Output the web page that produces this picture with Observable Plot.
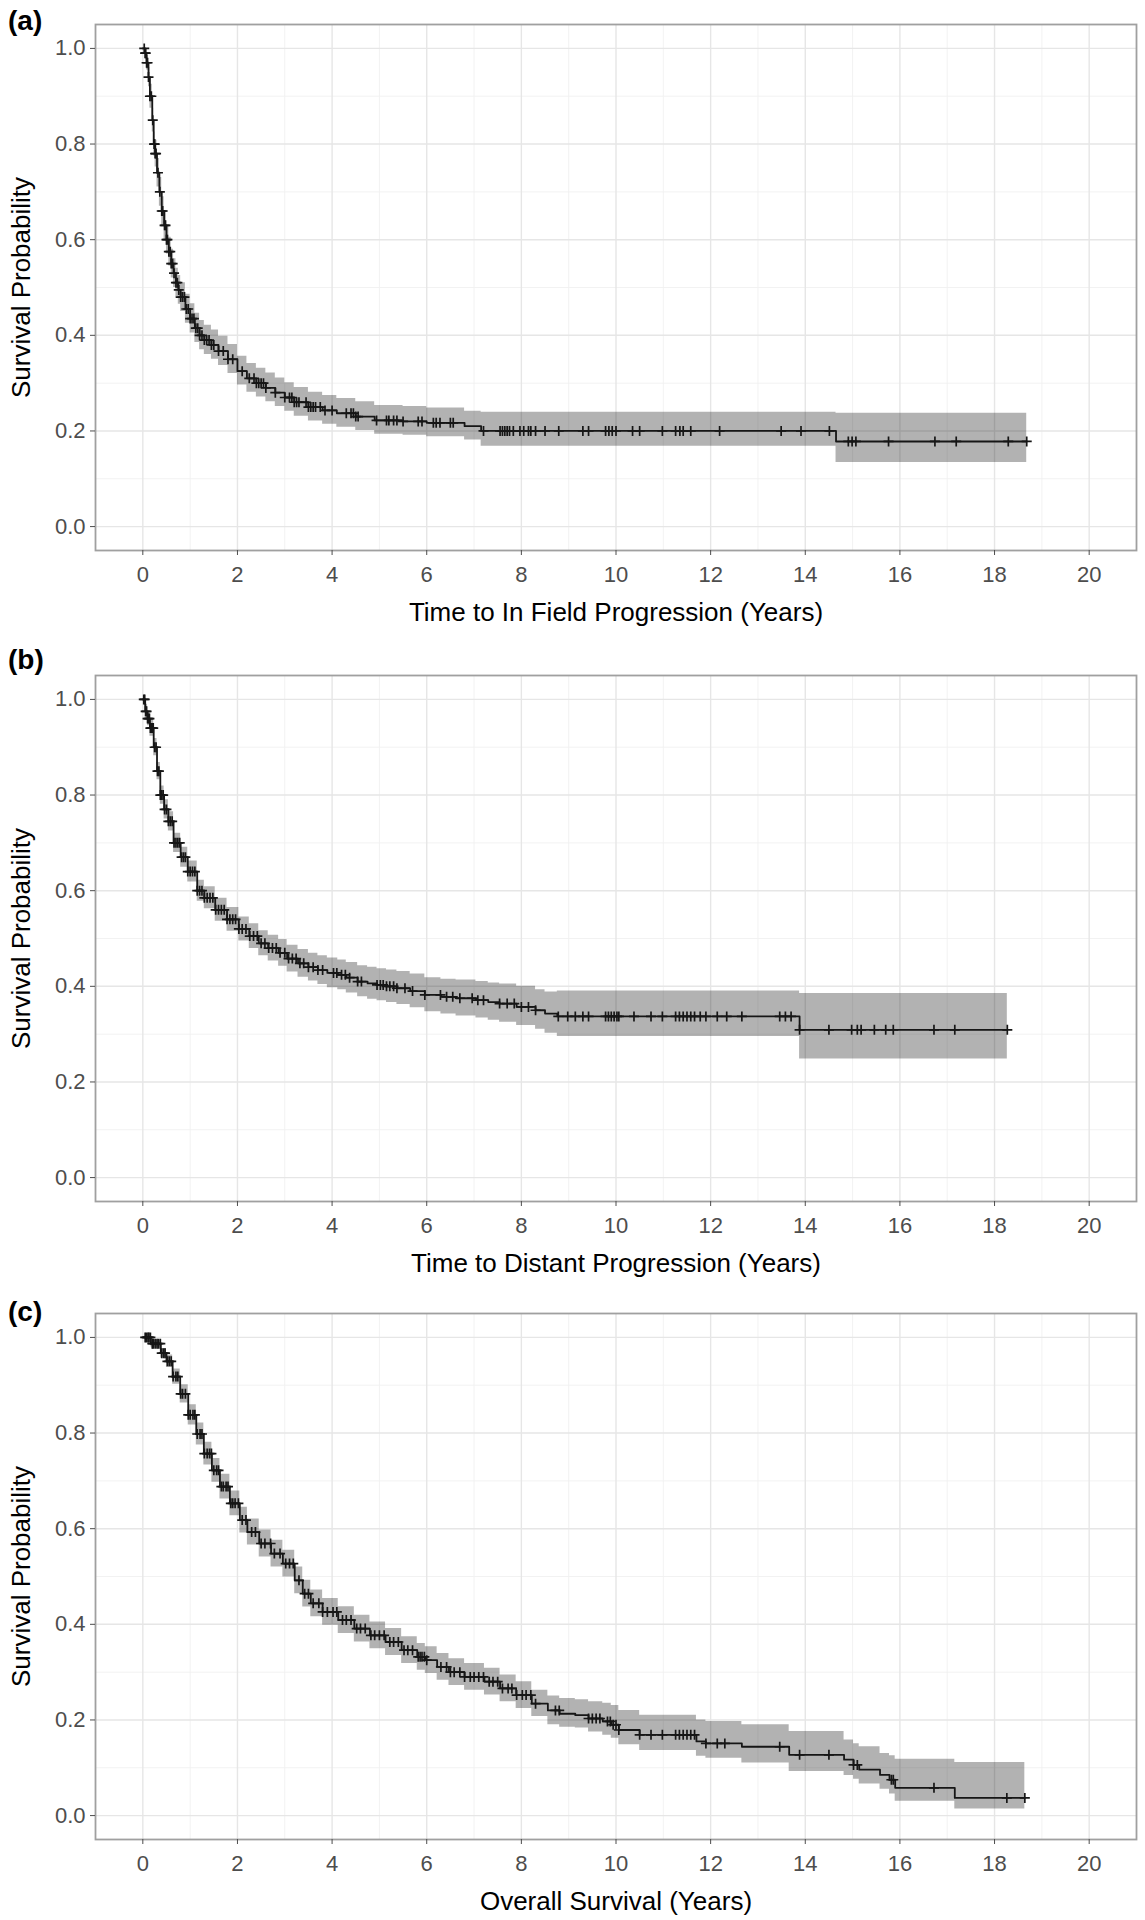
<!DOCTYPE html>
<html><head><meta charset="utf-8">
<script src="https://cdn.jsdelivr.net/npm/d3@7"></script>
<script src="https://cdn.jsdelivr.net/npm/@observablehq/plot@0.6"></script>
<style>
html,body{margin:0;padding:0;background:#fff;}
#root{position:relative;width:1145px;height:1920px;overflow:hidden;font-family:"Liberation Sans",Arial,sans-serif;}
.panel{position:absolute;left:0;}
.tag{position:absolute;left:8px;font-weight:bold;font-size:28px;line-height:28px;color:#000;font-family:"Liberation Sans",Arial,sans-serif;}
</style></head><body><div id="root"></div>
<script>
// ---- tick values ----
const xTicks = [0, 2, 4, 6, 8, 10, 12, 14, 16, 18, 20];
const xMinor = [1, 3, 5, 7, 9, 11, 13, 15, 17, 19];
const yTicks = [0, 0.2, 0.4, 0.6, 0.8, 1.0];
const yMinor = [0.1, 0.3, 0.5, 0.7, 0.9];

// ---- (a) Time to In Field Progression ----
const aTime  = [0, 0.05, 0.08, 0.12, 0.15, 0.2, 0.23, 0.26, 0.3, 0.35, 0.4, 0.45, 0.5, 0.55, 0.6, 0.65, 0.7, 0.75, 0.8, 0.9, 1.0, 1.1, 1.2, 1.3, 1.45, 1.6, 1.8, 2.0, 2.2, 2.4, 2.6, 2.8, 3.0, 3.2, 3.5, 3.8, 4.1, 4.5, 4.9, 5.5, 6.0, 6.8, 7.15, 14.65, 18.68];
const aSurv  = [1.0, 0.99, 0.97, 0.94, 0.90, 0.85, 0.80, 0.78, 0.74, 0.70, 0.66, 0.63, 0.60, 0.575, 0.55, 0.53, 0.51, 0.495, 0.48, 0.455, 0.435, 0.415, 0.40, 0.39, 0.38, 0.367, 0.35, 0.325, 0.31, 0.30, 0.29, 0.28, 0.27, 0.26, 0.25, 0.243, 0.237, 0.23, 0.222, 0.22, 0.217, 0.21, 0.20, 0.178, 0.178];
const aLower = [1.0, 0.98, 0.955, 0.92, 0.875, 0.825, 0.775, 0.752, 0.71, 0.67, 0.63, 0.60, 0.57, 0.545, 0.52, 0.50, 0.48, 0.465, 0.45, 0.425, 0.405, 0.385, 0.37, 0.36, 0.35, 0.337, 0.32, 0.296, 0.281, 0.271, 0.261, 0.251, 0.241, 0.231, 0.221, 0.214, 0.208, 0.201, 0.193, 0.191, 0.188, 0.181, 0.168, 0.134, 0.134];
const aUpper = [1.0, 1.0, 0.985, 0.96, 0.925, 0.875, 0.825, 0.808, 0.77, 0.73, 0.69, 0.66, 0.63, 0.605, 0.58, 0.56, 0.54, 0.525, 0.51, 0.486, 0.466, 0.446, 0.431, 0.421, 0.411, 0.398, 0.381, 0.356, 0.341, 0.331, 0.321, 0.311, 0.301, 0.291, 0.281, 0.274, 0.268, 0.261, 0.253, 0.251, 0.248, 0.241, 0.239, 0.237, 0.237];
const aCensor = [0.03, 0.05, 0.06, 0.08, 0.1, 0.12, 0.15, 0.18, 0.21, 0.24, 0.25, 0.26, 0.28, 0.32, 0.36, 0.4, 0.42, 0.46, 0.48, 0.5, 0.52, 0.55, 0.58, 0.6, 0.63, 0.66, 0.7, 0.73, 0.76, 0.8, 0.84, 0.88, 0.92, 0.96, 1.0, 1.04, 1.08, 1.12, 1.16, 1.2, 1.25, 1.3, 1.35, 1.4, 1.45, 1.5, 1.6, 1.7, 1.8, 1.9, 2.1, 2.25, 2.35, 2.4, 2.45, 2.5, 2.55, 2.6, 2.8, 3.0, 3.1, 3.15, 3.2, 3.25, 3.3, 3.45, 3.5, 3.55, 3.6, 3.65, 3.75, 3.85, 4.0, 4.3, 4.4, 4.45, 4.5, 4.55, 4.94, 5.15, 5.2, 5.3, 5.37, 5.5, 5.82, 5.9, 6.14, 6.2, 6.28, 6.5, 6.56, 7.2, 7.55, 7.6, 7.65, 7.7, 7.75, 7.83, 7.97, 8.05, 8.15, 8.2, 8.3, 8.5, 8.79, 9.3, 9.42, 9.78, 9.85, 9.92, 10.0, 10.35, 10.5, 10.98, 11.26, 11.35, 11.42, 11.58, 12.19, 13.49, 13.91, 14.51, 14.91, 14.99, 15.07, 15.76, 16.74, 17.19, 18.29, 18.68];

// ---- (b) Time to Distant Progression ----
const bTime  = [0, 0.05, 0.1, 0.15, 0.23, 0.3, 0.37, 0.45, 0.54, 0.65, 0.8, 0.95, 1.15, 1.3, 1.53, 1.78, 2.03, 2.25, 2.45, 2.65, 2.87, 3.05, 3.28, 3.5, 3.7, 3.9, 4.12, 4.3, 4.54, 4.75, 4.95, 5.15, 5.37, 5.65, 5.96, 6.3, 6.62, 7.04, 7.3, 7.54, 7.9, 8.3, 8.5, 8.76, 13.88, 18.27];
const bSurv  = [1.0, 0.975, 0.96, 0.94, 0.90, 0.85, 0.80, 0.77, 0.745, 0.70, 0.67, 0.64, 0.60, 0.585, 0.56, 0.54, 0.52, 0.505, 0.49, 0.48, 0.47, 0.458, 0.448, 0.44, 0.434, 0.428, 0.424, 0.418, 0.41, 0.406, 0.403, 0.40, 0.396, 0.39, 0.382, 0.378, 0.375, 0.371, 0.367, 0.364, 0.357, 0.35, 0.343, 0.337, 0.309, 0.309];
const bLower = [1.0, 0.96, 0.945, 0.923, 0.882, 0.832, 0.781, 0.75, 0.725, 0.68, 0.649, 0.618, 0.578, 0.562, 0.536, 0.515, 0.495, 0.479, 0.464, 0.453, 0.442, 0.43, 0.419, 0.411, 0.404, 0.397, 0.393, 0.386, 0.378, 0.373, 0.37, 0.366, 0.362, 0.355, 0.347, 0.342, 0.338, 0.334, 0.329, 0.325, 0.318, 0.31, 0.302, 0.295, 0.248, 0.248];
const bUpper = [1.0, 0.99, 0.975, 0.957, 0.918, 0.868, 0.819, 0.79, 0.765, 0.72, 0.691, 0.662, 0.622, 0.608, 0.584, 0.565, 0.545, 0.531, 0.516, 0.507, 0.498, 0.486, 0.477, 0.469, 0.464, 0.459, 0.455, 0.45, 0.443, 0.44, 0.437, 0.434, 0.431, 0.426, 0.418, 0.415, 0.413, 0.41, 0.407, 0.405, 0.4, 0.393, 0.388, 0.39, 0.385, 0.385];
const bCensor = [0.02, 0.04, 0.06, 0.08, 0.1, 0.12, 0.14, 0.16, 0.18, 0.2, 0.22, 0.25, 0.28, 0.31, 0.34, 0.37, 0.4, 0.43, 0.46, 0.5, 0.54, 0.58, 0.62, 0.66, 0.7, 0.74, 0.78, 0.82, 0.86, 0.9, 0.95, 1.0, 1.05, 1.1, 1.15, 1.2, 1.25, 1.3, 1.36, 1.42, 1.48, 1.54, 1.6, 1.66, 1.72, 1.78, 1.84, 1.9, 1.96, 2.03, 2.1, 2.18, 2.26, 2.34, 2.42, 2.5, 2.58, 2.66, 2.74, 2.82, 2.9, 3.0, 3.08, 3.16, 3.24, 3.32, 3.4, 3.5, 3.6, 3.7, 3.8, 4.03, 4.1, 4.2, 4.28, 4.37, 4.54, 4.62, 4.95, 5.02, 5.08, 5.15, 5.22, 5.3, 5.37, 5.54, 5.7, 5.96, 6.29, 6.42, 6.55, 6.7, 6.96, 7.08, 7.2, 7.54, 7.7, 7.85, 8.0, 8.15, 8.3, 8.78, 8.98, 9.14, 9.3, 9.42, 9.78, 9.84, 9.9, 9.96, 10.02, 10.06, 10.38, 10.74, 10.98, 11.26, 11.34, 11.42, 11.5, 11.58, 11.66, 11.78, 11.9, 12.14, 12.34, 12.66, 13.46, 13.58, 13.7, 13.88, 14.5, 14.98, 15.1, 15.18, 15.46, 15.7, 15.86, 16.72, 17.16, 18.27];

// ---- (c) Overall Survival ----
const cTime  = [0, 0.17, 0.38, 0.5, 0.63, 0.79, 0.96, 1.13, 1.29, 1.46, 1.63, 1.84, 2.05, 2.21, 2.46, 2.71, 2.96, 3.21, 3.38, 3.55, 3.8, 4.13, 4.47, 4.8, 5.13, 5.47, 5.8, 5.97, 6.22, 6.47, 6.8, 7.22, 7.55, 7.89, 8.22, 8.56, 8.81, 9.14, 9.42, 9.72, 9.9, 10.06, 10.5, 11.7, 11.9, 12.66, 13.66, 14.82, 15.02, 15.14, 15.58, 15.78, 15.9, 17.16, 18.64];
const cSurv  = [1.0, 0.987, 0.967, 0.95, 0.918, 0.882, 0.838, 0.798, 0.757, 0.722, 0.688, 0.653, 0.618, 0.593, 0.569, 0.548, 0.527, 0.492, 0.464, 0.444, 0.426, 0.409, 0.391, 0.377, 0.363, 0.346, 0.332, 0.325, 0.311, 0.30, 0.29, 0.28, 0.266, 0.252, 0.234, 0.22, 0.213, 0.21, 0.203, 0.197, 0.19, 0.179, 0.169, 0.155, 0.151, 0.144, 0.127, 0.117, 0.106, 0.096, 0.085, 0.075, 0.058, 0.037, 0.037];
const cLower = [1.0, 0.98, 0.957, 0.937, 0.902, 0.863, 0.817, 0.775, 0.733, 0.697, 0.662, 0.627, 0.591, 0.566, 0.541, 0.52, 0.499, 0.464, 0.436, 0.416, 0.398, 0.381, 0.363, 0.349, 0.335, 0.318, 0.304, 0.297, 0.283, 0.272, 0.262, 0.252, 0.238, 0.224, 0.207, 0.19, 0.185, 0.183, 0.175, 0.168, 0.162, 0.148, 0.136, 0.124, 0.12, 0.11, 0.092, 0.084, 0.076, 0.066, 0.055, 0.045, 0.03, 0.014, 0.014];
const cUpper = [1.0, 0.994, 0.977, 0.963, 0.934, 0.901, 0.859, 0.821, 0.781, 0.747, 0.714, 0.679, 0.645, 0.62, 0.597, 0.576, 0.555, 0.52, 0.492, 0.472, 0.454, 0.437, 0.419, 0.405, 0.391, 0.374, 0.36, 0.353, 0.339, 0.328, 0.318, 0.308, 0.294, 0.28, 0.262, 0.25, 0.245, 0.242, 0.238, 0.235, 0.23, 0.22, 0.21, 0.2, 0.197, 0.19, 0.176, 0.158, 0.15, 0.144, 0.13, 0.125, 0.118, 0.111, 0.111];
const cCensor = [0.05, 0.08, 0.11, 0.13, 0.16, 0.2, 0.22, 0.26, 0.3, 0.33, 0.37, 0.4, 0.44, 0.47, 0.52, 0.56, 0.6, 0.64, 0.7, 0.74, 0.8, 0.84, 0.9, 0.96, 1.0, 1.06, 1.1, 1.15, 1.21, 1.25, 1.3, 1.36, 1.41, 1.45, 1.5, 1.56, 1.6, 1.66, 1.7, 1.76, 1.8, 1.86, 1.9, 1.95, 2.02, 2.1, 2.18, 2.3, 2.38, 2.5, 2.58, 2.7, 2.78, 2.9, 3.02, 3.1, 3.18, 3.3, 3.42, 3.5, 3.6, 3.72, 3.8, 3.9, 4.02, 4.1, 4.22, 4.3, 4.4, 4.52, 4.6, 4.7, 4.82, 4.9, 5.0, 5.1, 5.22, 5.3, 5.4, 5.52, 5.6, 5.7, 5.82, 5.86, 5.9, 5.95, 6.0, 6.3, 6.42, 6.5, 6.58, 6.7, 6.8, 6.92, 7.0, 7.1, 7.2, 7.32, 7.4, 7.5, 7.6, 7.72, 7.8, 7.9, 8.02, 8.1, 8.2, 8.3, 8.72, 8.8, 9.42, 9.5, 9.58, 9.66, 9.82, 9.88, 9.94, 10.0, 10.06, 10.5, 10.74, 10.98, 11.26, 11.34, 11.42, 11.5, 11.58, 11.66, 11.9, 12.14, 12.3, 13.46, 13.88, 14.5, 15.02, 15.1, 15.82, 15.86, 16.72, 18.26, 18.64];

const FONT = '"Liberation Sans", Arial, sans-serif';
const plusSymbol = {
  draw(ctx, size) {
    const r = Math.sqrt(size / Math.PI);
    ctx.moveTo(-r, 0); ctx.lineTo(r, 0);
    ctx.moveTo(0, -r); ctx.lineTo(0, r);
  }
};

function makePanel({time, surv, lower, upper, censor, xTitle, height, marginBottom}) {
  const curve = time.map((t, i) => ({t, s: surv[i], lo: lower[i], hi: upper[i]}));
  const cens = censor.map(t => ({t, s: surv[Math.max(0, d3.bisectRight(time, t) - 1)]}));
  return Plot.plot({
    width: 1145, height,
    marginLeft: 95, marginRight: 9, marginTop: 24, marginBottom,
    style: {fontFamily: FONT, fontSize: "22px", color: "#4d4d4d", background: "transparent", overflow: "visible"},
    x: {domain: [-1, 21]},
    y: {domain: [-0.05, 1.05]},
    marks: [
      Plot.ruleX(xMinor, {stroke: "#f1f1f1", strokeWidth: 0.9}),
      Plot.ruleY(yMinor, {stroke: "#f1f1f1", strokeWidth: 0.9}),
      Plot.ruleX(xTicks, {stroke: "#e6e6e6", strokeWidth: 1.4}),
      Plot.ruleY(yTicks, {stroke: "#e6e6e6", strokeWidth: 1.4}),
      Plot.areaY(curve, {x: "t", y1: "lo", y2: "hi", curve: "step-after", fill: "#000", fillOpacity: 0.3}),
      Plot.line(curve, {x: "t", y: "s", curve: "step-after", stroke: "#161616", strokeWidth: 1.8}),
      Plot.dot(cens, {x: "t", y: "s", symbol: plusSymbol, r: 5, stroke: "#161616", strokeWidth: 1.7, fill: "none"}),
      Plot.frame({stroke: "#a0a0a0", strokeWidth: 1.8}),
      Plot.axisX(xTicks, {tickSize: 5, tickPadding: 11, tickFormat: d => String(d), label: null}),
      Plot.axisY(yTicks, {tickSize: 5, tickPadding: 5, tickFormat: d => d.toFixed(1), label: null}),
      Plot.text([xTitle], {text: d => d, frameAnchor: "bottom", textAnchor: "middle", dy: 62, fill: "#000", fontSize: 26, lineAnchor: "middle"}),
      Plot.text(["Survival Probability"], {text: d => d, frameAnchor: "left", textAnchor: "middle", dx: -74, rotate: -90, fill: "#000", fontSize: 26, lineAnchor: "middle"})
    ]
  });
}

const root = document.getElementById("root");
const panels = [
  {tag: "(a)", tagTop: 7, top: 0, height: 640, marginBottom: 90, time: aTime, surv: aSurv, lower: aLower, upper: aUpper, censor: aCensor, xTitle: "Time to In Field Progression (Years)"},
  {tag: "(b)", tagTop: 646, top: 651, height: 640, marginBottom: 90, time: bTime, surv: bSurv, lower: bLower, upper: bUpper, censor: bCensor, xTitle: "Time to Distant Progression (Years)"},
  {tag: "(c)", tagTop: 1298, top: 1289, height: 631, marginBottom: 81, time: cTime, surv: cSurv, lower: cLower, upper: cUpper, censor: cCensor, xTitle: "Overall Survival (Years)"}
];
for (const p of panels) {
  const wrap = document.createElement("div");
  wrap.className = "panel";
  wrap.style.top = p.top + "px";
  wrap.appendChild(makePanel(p));
  root.appendChild(wrap);
  const tag = document.createElement("div");
  tag.className = "tag";
  tag.style.top = p.tagTop + "px";
  tag.textContent = p.tag;
  root.appendChild(tag);
}
</script>
</body></html>
